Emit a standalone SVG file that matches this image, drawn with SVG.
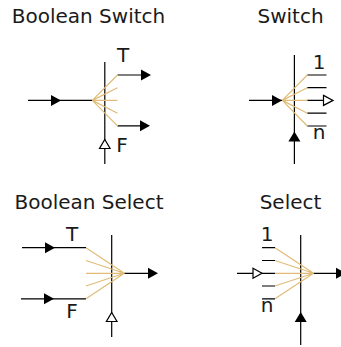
<svg xmlns="http://www.w3.org/2000/svg" width="341" height="347" viewBox="0 0 341 347">
<style>
text{font-family:"DejaVu Sans",sans-serif;font-size:20px;fill:#1a1a1a;text-anchor:middle}
.l{stroke:#000;stroke-width:1.2;fill:none}
.f{stroke:#e0bc78;stroke-width:1.2;fill:none}
.a{fill:#000;stroke:none}
.o{fill:#fff;stroke:#000;stroke-width:1.2}
</style>
<g id="connectors">
<path class="l" d="M104.800 62V164M28 100.400H92.300M117.500 75H142M117.500 125.800H142"/>
<path class="l" d="M294.400 55V164M249 100.400H282.300M307.300 75H326.500M307.300 87.700H326.500M307.300 100.400H326.500M307.300 113.200H326.500M307.300 126H326.500"/>
<path class="l" d="M111.700 235V337M22 247.700H86M21 298.800H86M124.300 273.300H150"/>
<path class="l" d="M300.700 235V345M237 273.300H275M262 247.700H275M262 260.500H275M262 286H275M262 298.800H275M313.500 273.300H336"/>
</g>
<g id="boolean-switch">
<text x="88.500" y="23">Boolean Switch</text>
<text x="123" y="62">T</text><text x="122" y="152">F</text>
<path class="f" d="M117.500 75L92.300 100.400L117.500 87.700M92.300 100.400H117.500M117.500 113.200L92.300 100.400L117.500 125.800"/>
<path class="a" d="M51 94.900L61 100.400L51 105.900ZM141 69.500L151 75L141 80.500ZM140 120.300L150 125.800L140 131.300Z"/>
<path class="o" d="M104.800 139.500L110.100 148.500H99.500Z"/>
</g>
<g id="switch">
<text x="290.500" y="23">Switch</text>
<text x="319" y="69">1</text><text x="319" y="139">n</text>
<path class="f" d="M307.300 75L282.300 100.400L307.300 87.700M282.300 100.400H307.300M307.300 113.200L282.300 100.400L307.300 126"/>
<path class="a" d="M272 94.900L282 100.400L272 105.900ZM294.400 131.500L300.400 141.500H288.400Z"/>
<path class="o" d="M323.500 95.400L333 100.400L323.500 105.400Z"/>
</g>
<g id="boolean-select">
<text x="89" y="209">Boolean Select</text>
<text x="72" y="241">T</text><text x="72" y="318">F</text>
<path class="f" d="M86 247.700L124.300 273.300L86 260.500M86 273.300H124.300M86 286L124.300 273.300L86 298.800"/>
<path class="a" d="M45 242.200L55 247.700L45 253.200ZM44 293.300L54 298.800L44 304.300ZM148 267.800L158 273.300L148 278.800Z"/>
<path class="o" d="M111.700 312.500L117 321.500H106.400Z"/>
</g>
<g id="select">
<text x="290.500" y="209">Select</text>
<text x="267" y="241">1</text><text x="267" y="312">n</text>
<path class="f" d="M275 247.700L313.500 273.300L275 260.500M275 273.300H313.500M275 286L313.500 273.300L275 298.800"/>
<path class="a" d="M336 267.800L346 273.300L336 278.800ZM300.700 312L306.700 322H294.700Z"/>
<path class="o" d="M253 268.300L262 273.300L253 278.300Z"/>
</g>
</svg>
